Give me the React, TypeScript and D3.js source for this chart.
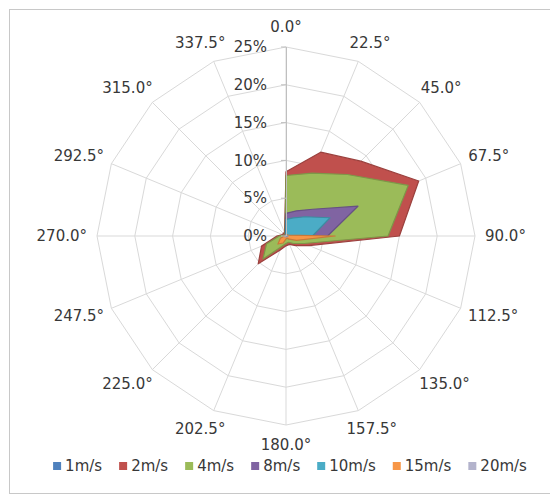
import React from 'react';
import * as d3 from 'd3';

// wind directions (16 points) and speed classes
const directions = ['0.0°', '22.5°', '45.0°', '67.5°', '90.0°', '112.5°', '135.0°', '157.5°',
  '180.0°', '202.5°', '225.0°', '247.5°', '270.0°', '292.5°', '315.0°', '337.5°'];
const speeds = ['1m/s', '2m/s', '4m/s', '8m/s', '10m/s', '15m/s', '20m/s'];
const colors = ['#4F81BD', '#C0504D', '#9BBB59', '#8064A2', '#4BACC6', '#F79646', '#B3B3CC'];
const rTicks = [0, 5, 10, 15, 20, 25];

// frequency (%) per direction, one list per speed class
const s1 = [3, 4, 5, 7, 6, 1.5, 1, 0.8, 1, 1.2, 2.5, 1.5, 0.8, 0.3, 0.3, 0.3];
const s2 = [8.5, 12, 14, 19, 15, 3.3, 1.8, 1.2, 1.3, 2, 5.2, 3.5, 1.2, 0.5, 0.5, 0.5];
const s4 = [8, 9, 11.5, 17.5, 13.5, 2.6, 1.4, 0.9, 1, 1.5, 4.3, 2.8, 0.9, 0.3, 0.3, 0.3];
const s8 = [3, 3.6, 5, 10.3, 5.5, 1, 0.5, 0.3, 0.3, 0.5, 1, 0.5, 0.3, 0.2, 0.2, 0.2];
const s10 = [2.2, 2.6, 3.6, 6.3, 3.5, 0.5, 0.3, 0.2, 0.2, 0.3, 0.5, 0.3, 0.2, 0.1, 0.1, 0.1];
const s15 = [0.2, 0.2, 0.2, 0.3, 6.5, 1.5, 0.6, 0.3, 0.4, 1, 1.5, 0.8, 0.2, 0.1, 0.1, 0.1];
const s20 = [0.1, 0.1, 0.1, 0.1, 0.3, 0.2, 0.1, 0.1, 0.1, 0.1, 0.2, 0.1, 0.1, 0.1, 0.1, 0.1];
const series = [s1, s2, s4, s8, s10, s15, s20];

const W = 550;
const H = 496;
const cx = 286;
const cy = 236;
const R = 189;
const FONT = 'DejaVu Sans, sans-serif';

const measure = (txt: string, size: number) => {
  const ctx = document.createElement('canvas').getContext('2d');
  if (!ctx) return txt.length * size * 0.6;
  ctx.font = `${size}px ${FONT}`;
  return ctx.measureText(txt).width;
};

export default function App() {
  const r = d3.scaleLinear().domain([0, 25]).range([0, R]);
  const step = (2 * Math.PI) / directions.length;
  const angles = directions.map((_, i) => i * step);

  const gridPoly = (v: number) =>
    d3.lineRadial<number>()
      .angle(a => a)
      .radius(() => r(v))
      .curve(d3.curveLinearClosed)(angles) || '';

  const area = d3.lineRadial<number>()
    .angle((_, i) => i * step)
    .radius(d => r(d))
    .curve(d3.curveLinearClosed);

  // legend layout
  const lgSize = 15;
  const items = speeds.map(s => ({ label: s, w: 8 + 4 + measure(s, lgSize) }));
  const gap = 17;
  const totalW = d3.sum(items, d => d.w) + gap * (items.length - 1);
  let lx = 290 - totalW / 2;
  const legend = items.map((d, i) => {
    const x = lx;
    lx += d.w + gap;
    return { ...d, x, color: colors[i] };
  });

  const labSize = 15;
  const txt = '#383838';

  return (
    <div style={{ position: 'absolute', left: 0, top: 0 }}>
      <svg width={W} height={H} style={{ display: 'block', background: '#fff' }}>
        <rect x={9.5} y={9.5} width={W + 10} height={484} fill="#fff" stroke="#C8C8C8" />
        <g transform={`translate(${cx},${cy})`}>
          {rTicks.slice(1).map(v => (
            <path key={v} d={gridPoly(v)} fill="none" stroke="#D9D9D9" strokeWidth={1} />
          ))}
          {angles.map((a, i) => (
            <line key={i} x1={0} y1={0} x2={R * Math.sin(a)} y2={-R * Math.cos(a)}
              stroke="#D9D9D9" strokeWidth={1} />
          ))}
          {series.map((s, i) => (
            <path key={speeds[i]} d={area(s) || ''} fill={colors[i]}
              stroke={d3.color(colors[i])?.darker(0.6).formatHex()} strokeWidth={1.2}
              strokeLinejoin="round" />
          ))}
          <line x1={0.5} y1={0} x2={0.5} y2={-R} stroke="#BFBFBF" />
          {rTicks.map(v => (
            <g key={v} transform={`translate(0,${-r(v)})`}>
              <line x1={-5} x2={0} y1={0} y2={0} stroke="#BFBFBF" />
              <text x={-19} dy="0.35em" textAnchor="end" fontFamily={FONT} fontSize={labSize}
                fill={txt}>{v}%</text>
            </g>
          ))}
          {directions.map((d, i) => {
            const a = angles[i];
            const sn = Math.sin(a);
            const cs = Math.cos(a);
            const w = measure(d, labSize);
            const rr = R + 10;
            const x = rr * sn + (sn * w) / 2;
            const y = -rr * cs - (cs * 20) / 2;
            return (
              <text key={d} x={x} y={y} dy="0.35em" textAnchor="middle" fontFamily={FONT}
                fontSize={labSize} fill={txt}>{d}</text>
            );
          })}
        </g>
        <g transform="translate(0,466)">
          {legend.map(d => (
            <g key={d.label} transform={`translate(${d.x},0)`}>
              <rect x={0} y={-4} width={8} height={8} fill={d.color} />
              <text x={12} dy="0.35em" fontFamily={FONT} fontSize={lgSize} fill={txt}>{d.label}</text>
            </g>
          ))}
        </g>
      </svg>
    </div>
  );
}
